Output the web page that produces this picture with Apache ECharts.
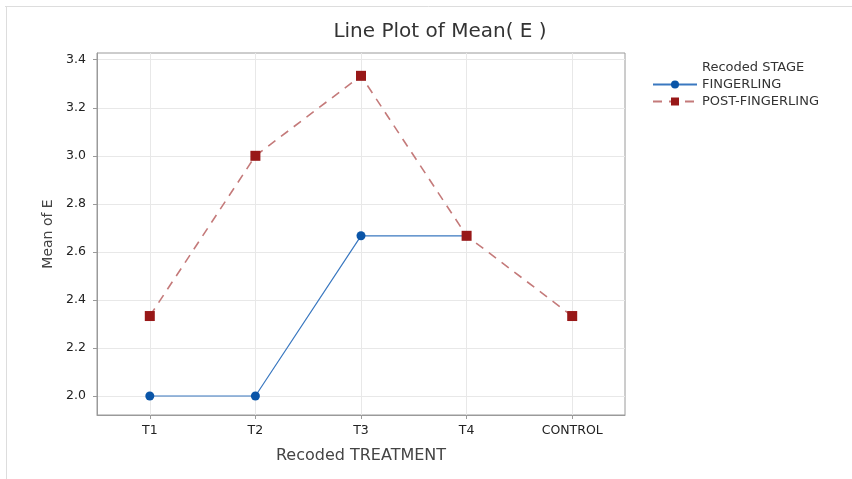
<!DOCTYPE html>
<html><head><meta charset="utf-8">
<script src="https://cdn.jsdelivr.net/npm/echarts@6/dist/echarts.min.js"></script>
<style>html,body{margin:0;padding:0;background:#fff}#c{width:852px;height:479px}</style>
</head><body><div id="c"></div>
<script>
var categories = ['T1', 'T2', 'T3', 'T4', 'CONTROL'];
var fingerling = [2.0, 2.0, 2.667, 2.667, null];
var postFingerling = [2.333, 3.0, 3.333, 2.667, 2.333];
var yTicks = [2.0, 2.2, 2.4, 2.6, 2.8, 3.0, 3.2, 3.4];
var FONT = '"DejaVu Sans", sans-serif';
var chart = echarts.init(document.getElementById('c'));
chart.setOption({
  backgroundColor: '#fff',
  animation: false,
  title: {
    text: 'Line Plot of Mean( E )', left: 435, top: 17, textAlign: 'center',
    textStyle: {fontFamily: FONT, fontSize: 20, fontWeight: 'normal', color: '#333'}
  },
  graphic: [
    {type: 'line', shape: {x1: 5, y1: 6.5, x2: 852, y2: 6.5}, style: {stroke: '#ddd', lineWidth: 1}},
    {type: 'line', shape: {x1: 6.5, y1: 6, x2: 6.5, y2: 479}, style: {stroke: '#ddd', lineWidth: 1}},
    {type: 'text', left: 702, top: 61, style: {text: 'Recoded STAGE', font: '13px ' + FONT, fill: '#333'}}
  ],
  legend: {
    orient: 'vertical', left: 652, top: 78, padding: 0, itemGap: 4, itemWidth: 44, itemHeight: 10,
    textStyle: {fontFamily: FONT, fontSize: 13, color: '#333'},
    data: ['FINGERLING', 'POST-FINGERLING']
  },
  grid: {left: 97, right: 227, top: 53, bottom: 64, show: true, borderColor: '#9a9a9a', borderWidth: 1},
  xAxis: {
    type: 'category', data: categories, boundaryGap: true,
    name: 'Recoded TREATMENT', nameLocation: 'middle', nameGap: 33,
    nameTextStyle: {fontFamily: FONT, fontSize: 16, color: '#444'},
    axisLine: {show: true, lineStyle: {color: '#9a9a9a'}},
    axisTick: {show: true, alignWithLabel: true, length: 4, lineStyle: {color: '#9a9a9a'}},
    axisLabel: {fontFamily: FONT, fontSize: 12.5, color: '#222', margin: 9},
    splitLine: {show: false}
  },
  yAxis: {
    type: 'value', min: 1.921, max: 3.428,
    name: 'Mean of E', nameLocation: 'middle', nameGap: 42, nameRotate: 90,
    nameTextStyle: {fontFamily: FONT, fontSize: 14, color: '#444'},
    axisLine: {show: true, lineStyle: {color: '#9a9a9a'}},
    axisTick: {show: true, length: 4, customValues: yTicks, lineStyle: {color: '#9a9a9a'}},
    axisLabel: {customValues: yTicks, fontFamily: FONT, fontSize: 12.5, color: '#222', margin: 11,
      formatter: function (v) { return v.toFixed(1); }},
    splitLine: {show: true, lineStyle: {color: '#e8e8e8'}}
  },
  series: [
    {
      name: 'grid-x', type: 'line', data: [], z: 1, silent: true,
      markLine: {
        z: 1, silent: true, symbol: 'none', label: {show: false},
        lineStyle: {color: '#e8e8e8', type: 'solid', width: 1},
        data: categories.map(function (c) { return {xAxis: c}; })
      }
    },
    {
      name: 'FINGERLING', type: 'line', data: fingerling, z: 3,
      symbol: 'circle', symbolSize: 9,
      itemStyle: {color: '#0a55a8'},
      lineStyle: {color: '#3a78c0', width: 1.2, type: 'solid'}
    },
    {
      name: 'POST-FINGERLING', type: 'line', data: postFingerling, z: 3,
      symbol: 'rect', symbolSize: 10,
      itemStyle: {color: '#981818'},
      lineStyle: {color: '#c47a7a', width: 1.6, type: [9, 7]}
    }
  ]
});
</script></body></html>
